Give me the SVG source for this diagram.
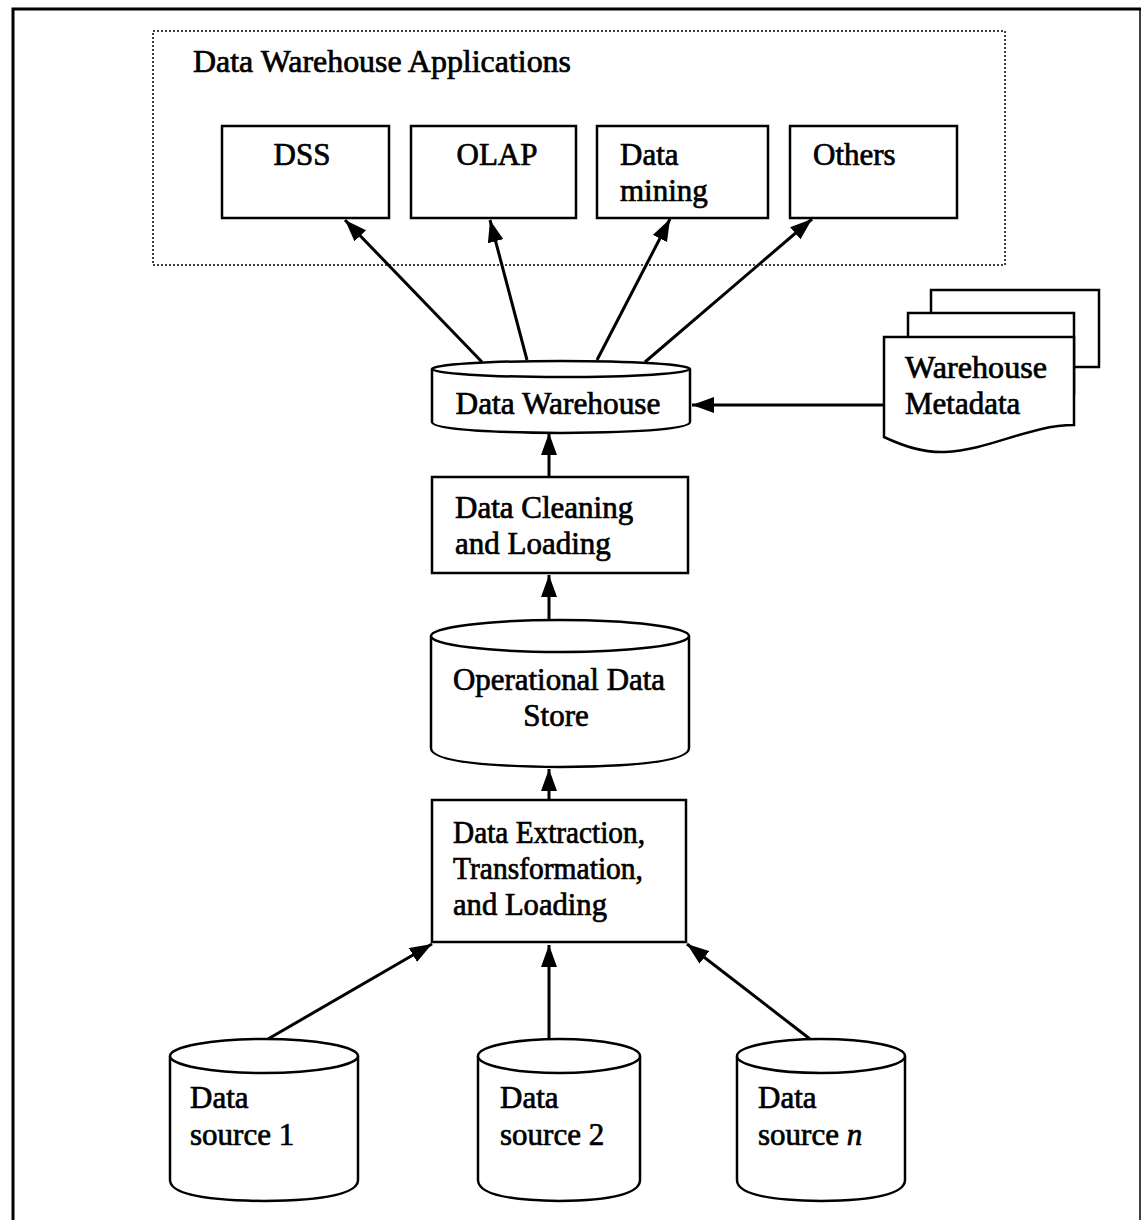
<svg xmlns="http://www.w3.org/2000/svg" width="1141" height="1220" viewBox="0 0 1141 1220">
<style>
text{font-family:"Liberation Serif","Times New Roman",serif;font-size:31px;fill:#000;stroke:#000;stroke-width:0.7}
.n{fill:#fff;stroke:#000;stroke-width:2.5}
.c{fill:none;stroke:#000;stroke-width:3}
</style>
<defs>
<marker id="ah" markerUnits="userSpaceOnUse" markerWidth="24" markerHeight="16" refX="22" refY="8" orient="auto">
<path d="M0,0 L22,8 L0,16 z" fill="#000"/>
</marker>
</defs>
<rect x="0" y="0" width="1141" height="1220" fill="#fff"/>
<path d="M13,1225 V9 H1141" fill="none" stroke="#000" stroke-width="3"/>
<line x1="1140" y1="9" x2="1140" y2="1225" stroke="#000" stroke-width="1.5"/>
<g id="apps">
<rect x="153" y="31" width="852" height="234" fill="none" stroke="#000" stroke-width="1.5" stroke-dasharray="2,2"/>
<text x="193" y="72" textLength="378" lengthAdjust="spacingAndGlyphs">Data Warehouse Applications</text>
</g>
<g id="dss"><rect class="n" x="222" y="126" width="167" height="92"/><text x="302" y="165" text-anchor="middle">DSS</text></g>
<g id="olap"><rect class="n" x="411" y="126" width="165" height="92"/><text x="497" y="165" text-anchor="middle">OLAP</text></g>
<g id="mining"><rect class="n" x="597" y="126" width="171" height="92"/><text x="620" y="165">Data</text><text x="620" y="201">mining</text></g>
<g id="others"><rect class="n" x="790" y="126" width="167" height="92"/><text x="813" y="165">Others</text></g>
<g id="connectors">
<line class="c" x1="482" y1="362" x2="345" y2="220" marker-end="url(#ah)"/>
<line class="c" x1="527" y1="360" x2="490" y2="220" marker-end="url(#ah)"/>
<line class="c" x1="597" y1="360" x2="670" y2="219" marker-end="url(#ah)"/>
<line class="c" x1="645" y1="362" x2="812" y2="219" marker-end="url(#ah)"/>
<line class="c" x1="884" y1="405" x2="692" y2="405" marker-end="url(#ah)"/>
<line class="c" x1="549" y1="477" x2="549" y2="433" marker-end="url(#ah)"/>
<line class="c" x1="549" y1="620" x2="549" y2="575" marker-end="url(#ah)"/>
<line class="c" x1="549" y1="800" x2="549" y2="769" marker-end="url(#ah)"/>
<line class="c" x1="268" y1="1039" x2="432" y2="944" marker-end="url(#ah)"/>
<line class="c" x1="549" y1="1039" x2="549" y2="945" marker-end="url(#ah)"/>
<line class="c" x1="810" y1="1039" x2="687" y2="944" marker-end="url(#ah)"/>
</g>
<g id="dw">
<path class="n" d="M432,369 V422 Q432,432 561,433 Q690,432 690,422 V369"/>
<ellipse class="n" cx="561" cy="369" rx="129" ry="8"/>
<text x="558" y="414" text-anchor="middle" textLength="205" lengthAdjust="spacingAndGlyphs">Data Warehouse</text>
</g>
<g id="metadata">
<rect class="n" x="931" y="290" width="168" height="77"/>
<rect class="n" x="908" y="313" width="166" height="80"/>
<path class="n" d="M884,337 H1074 V425 C1030,425 990,450 945,452 C925,453 905,447 884,437 Z"/>
<text x="905" y="378" textLength="142" lengthAdjust="spacingAndGlyphs">Warehouse</text>
<text x="905" y="414">Metadata</text>
</g>
<g id="cleaning"><rect class="n" x="432" y="477" width="256" height="96"/><text x="455" y="518">Data Cleaning</text><text x="455" y="554">and Loading</text></g>
<g id="ods">
<path class="n" d="M431,636 V748 Q431,766 560,767 Q689,766 689,748 V636"/>
<ellipse class="n" cx="560" cy="636" rx="129" ry="16"/>
<text x="559" y="690" text-anchor="middle" textLength="212" lengthAdjust="spacingAndGlyphs">Operational Data</text>
<text x="556" y="726" text-anchor="middle">Store</text>
</g>
<g id="etl"><rect class="n" x="432" y="800" width="254" height="142"/><text x="453" y="843" textLength="192" lengthAdjust="spacingAndGlyphs">Data Extraction,</text><text x="453" y="879" textLength="190" lengthAdjust="spacingAndGlyphs">Transformation,</text><text x="453" y="915" textLength="154" lengthAdjust="spacingAndGlyphs">and Loading</text></g>
<g id="src1">
<path class="n" d="M170,1056 V1180 Q170,1200 264,1201 Q358,1200 358,1180 V1056"/>
<ellipse class="n" cx="264" cy="1056" rx="94" ry="17"/>
<text x="190" y="1108">Data</text><text x="190" y="1145">source 1</text>
</g>
<g id="src2">
<path class="n" d="M478,1056 V1180 Q478,1200 559,1201 Q640,1200 640,1180 V1056"/>
<ellipse class="n" cx="559" cy="1056" rx="81" ry="17"/>
<text x="500" y="1108">Data</text><text x="500" y="1145">source 2</text>
</g>
<g id="srcn">
<path class="n" d="M737,1056 V1180 Q737,1200 821,1201 Q905,1200 905,1180 V1056"/>
<ellipse class="n" cx="821" cy="1056" rx="84" ry="17"/>
<text x="758" y="1108">Data</text><text x="758" y="1145">source <tspan font-style="italic">n</tspan></text>
</g>
</svg>
